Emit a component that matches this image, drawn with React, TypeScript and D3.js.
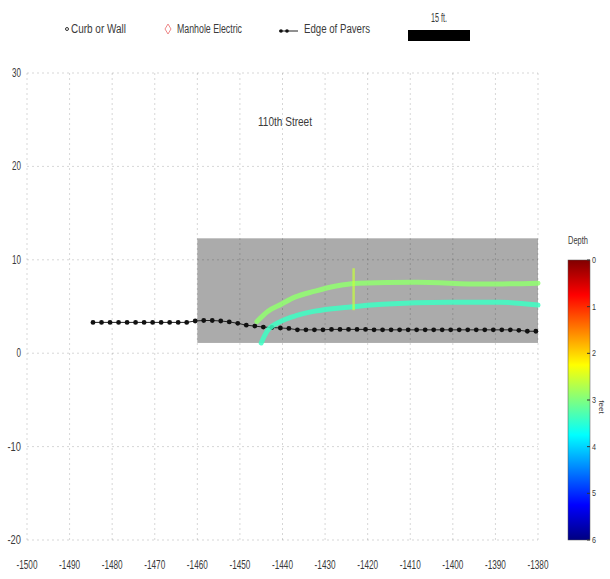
import React, { useRef, useEffect } from 'react';
import * as d3 from 'd3';

const W = 610;
const H = 579;

const xTicks = [-1500, -1490, -1480, -1470, -1460, -1450, -1440, -1430, -1420, -1410, -1400, -1390, -1380];
const yTicks = [30, 20, 10, 0, -10, -20];
const depthTicks = [0, 1, 2, 3, 4, 5, 6];

// surveyed area (grey patch)
const areaX = [-1460, -1380];
const areaY = [1.1, 12.3];

// utility traces, x / y in ft, depth in ft
const upperX = [-1446, -1443.4, -1440.3, -1437.1, -1432.4, -1427.7, -1422.3, -1408.6, -1392.9, -1380];
const upperY = [3.4, 4.5, 5.25, 6.0, 6.64, 7.17, 7.5, 7.6, 7.4, 7.5];
const upperDepth = 2.9;

const lowerX = [-1445, -1443.6, -1440.3, -1436.4, -1432.4, -1424.6, -1416.6, -1400.9, -1389.1, -1380];
const lowerY = [1.1, 2.36, 3.43, 4.07, 4.5, 4.93, 5.25, 5.46, 5.46, 5.15];
const lowerDepth = 3.4;

const markX = [-1423.3, -1423.3];
const markY = [9.1, 4.6];
const markDepth = 2.6;

// edge of pavers
const paverX = [
  -1484.5, -1482.5, -1480.5, -1478.5, -1476.5, -1474.5, -1472.5, -1470.5, -1468.5, -1466.5,
  -1464.5, -1462.5, -1460.5, -1458.5, -1456.5, -1454.5, -1452.5, -1450.5, -1448.5, -1446.5,
  -1444.5, -1442.5, -1440.5, -1438.5, -1436.5, -1434.5, -1432.5, -1430.5, -1428.5, -1426.5,
  -1424.5, -1422.5, -1420.5, -1418.5, -1416.5, -1414.5, -1412.5, -1410.5, -1408.5, -1406.5,
  -1404.5, -1402.5, -1400.5, -1398.5, -1396.5, -1394.5, -1392.5, -1390.5, -1388.5, -1386.5,
  -1384.5, -1382.5, -1380.5
];
const paverY = [
  3.3, 3.3, 3.3, 3.3, 3.3, 3.3, 3.3, 3.3, 3.3, 3.3,
  3.3, 3.3, 3.45, 3.5, 3.5, 3.45, 3.35, 3.2, 3.0, 2.9,
  2.8, 2.75, 2.7, 2.65, 2.5, 2.5, 2.5, 2.5, 2.55, 2.55,
  2.55, 2.55, 2.55, 2.5, 2.5, 2.5, 2.5, 2.5, 2.5, 2.5,
  2.5, 2.5, 2.5, 2.5, 2.5, 2.5, 2.5, 2.5, 2.5, 2.5,
  2.45, 2.35, 2.35
];

const FONT = "'Liberation Sans', Arial, sans-serif";

const App = () => {
  const svgRef = useRef<SVGSVGElement>(null);

  useEffect(() => {
    const svg = d3.select(svgRef.current);
    svg.selectAll('*').remove();

    const x = d3.scaleLinear().domain([-1500, -1380]).range([27, 538]);
    const y = d3.scaleLinear().domain([-20, 30]).range([540, 73]);

    // jet colormap, 0 ft = dark red, 6 ft = dark blue
    const jet = d3.scaleLinear<string>()
      .domain([6, 5.25, 3.75, 2.25, 0.75, 0])
      .range(['#000080', '#0000ff', '#00ffff', '#ffff00', '#ff0000', '#800000']);

    // squeezed text, the original uses a narrow face
    const label = (g, tx, ty, str, size, len, anchor = 'start') =>
      g.append('text')
        .attr('x', tx)
        .attr('y', ty)
        .attr('text-anchor', anchor)
        .attr('font-family', FONT)
        .attr('font-size', size)
        .attr('fill', '#3a3a3a')
        .attr('textLength', len)
        .attr('lengthAdjust', 'spacingAndGlyphs')
        .text(str);

    // grey patch
    svg.append('rect')
      .attr('x', x(areaX[0]))
      .attr('y', y(areaY[1]))
      .attr('width', x(areaX[1]) - x(areaX[0]))
      .attr('height', y(areaY[0]) - y(areaY[1]))
      .attr('fill', '#ababab');

    // grid
    const grid = svg.append('g')
      .attr('stroke', '#000')
      .attr('stroke-opacity', 0.16)
      .attr('stroke-dasharray', '2,3');
    xTicks.forEach(t => {
      grid.append('line').attr('x1', x(t)).attr('x2', x(t)).attr('y1', y(30)).attr('y2', y(-20));
    });
    yTicks.forEach(t => {
      grid.append('line').attr('x1', x(-1500)).attr('x2', x(-1380)).attr('y1', y(t)).attr('y2', y(t));
    });

    // axis labels
    const xa = svg.append('g');
    xTicks.forEach(t => label(xa, x(t), 569, String(t), 12, 21, 'middle'));
    const ya = svg.append('g');
    yTicks.forEach(t => label(ya, 21, y(t) + 4, String(t), 12, String(t).length * 4.5, 'end'));

    const line = d3.line<[number, number]>()
      .x(d => x(d[0]))
      .y(d => y(d[1]))
      .curve(d3.curveMonotoneX);

    // edge of pavers
    const pavers: [number, number][] = paverX.map((v, i) => [v, paverY[i]]);
    svg.append('path')
      .datum(pavers)
      .attr('fill', 'none')
      .attr('stroke', '#222')
      .attr('stroke-width', 1)
      .attr('d', d3.line<[number, number]>().x(d => x(d[0])).y(d => y(d[1])));
    svg.append('g').selectAll('circle')
      .data(pavers)
      .enter().append('circle')
      .attr('cx', d => x(d[0]))
      .attr('cy', d => y(d[1]))
      .attr('r', 2.4)
      .attr('fill', '#111');

    // utility traces
    const upper: [number, number][] = upperX.map((v, i) => [v, upperY[i]]);
    const lower: [number, number][] = lowerX.map((v, i) => [v, lowerY[i]]);
    [[upper, upperDepth], [lower, lowerDepth]].forEach(([pts, dep]) => {
      svg.append('path')
        .datum(pts as [number, number][])
        .attr('fill', 'none')
        .attr('stroke', jet(dep as number))
        .attr('stroke-opacity', 0.85)
        .attr('stroke-width', 5)
        .attr('stroke-linecap', 'round')
        .attr('d', line);
    });

    svg.append('line')
      .attr('x1', x(markX[0])).attr('x2', x(markX[1]))
      .attr('y1', y(markY[0])).attr('y2', y(markY[1]))
      .attr('stroke', jet(markDepth))
      .attr('stroke-opacity', 0.7)
      .attr('stroke-width', 2.5);

    // title
    label(svg, 258, 126, '110th Street', 12, 54);

    // legend
    const leg = svg.append('g');
    leg.append('circle').attr('cx', 67).attr('cy', 29).attr('r', 1.5).attr('fill', 'none').attr('stroke', '#333');
    label(leg, 71, 33, 'Curb or Wall', 12, 55);
    leg.append('path')
      .attr('d', 'M168,24 L171,29 L168,34 L165,29 Z')
      .attr('fill', 'none')
      .attr('stroke', '#e88')
      .attr('stroke-width', 1);
    label(leg, 177, 33, 'Manhole Electric', 12, 65);
    leg.append('line').attr('x1', 279).attr('x2', 298).attr('y1', 31).attr('y2', 31).attr('stroke', '#222');
    [281, 287].forEach(cx => {
      leg.append('circle').attr('cx', cx).attr('cy', 31).attr('r', 1.8).attr('fill', '#111');
    });
    label(leg, 304, 33, 'Edge of Pavers', 12, 66);
    leg.append('rect').attr('x', 408).attr('y', 30).attr('width', 62).attr('height', 11).attr('fill', '#000');
    label(leg, 439, 22, '15 ft.', 12, 16, 'middle');

    // colorbar
    const cb = d3.scaleLinear().domain([0, 6]).range([260, 540]);
    const defs = svg.append('defs');
    const grad = defs.append('linearGradient')
      .attr('id', 'jet')
      .attr('x1', 0).attr('y1', 0).attr('x2', 0).attr('y2', 1);
    [0, 0.75, 2.25, 3.75, 5.25, 6].forEach(d => {
      grad.append('stop').attr('offset', d / 6).attr('stop-color', jet(d));
    });
    svg.append('rect')
      .attr('x', 568).attr('y', cb(0))
      .attr('width', 22).attr('height', cb(6) - cb(0))
      .attr('fill', 'url(#jet)')
      .attr('stroke', '#555')
      .attr('stroke-width', 0.5);
    const cbg = svg.append('g');
    depthTicks.forEach(t => {
      cbg.append('line').attr('x1', 587).attr('x2', 590).attr('y1', cb(t)).attr('y2', cb(t)).attr('stroke', '#333');
      label(cbg, 592, cb(t) + 3, String(t), 9, 4);
    });
    cbg.append('text')
      .attr('transform', `translate(599,${cb(3.15)}) rotate(90)`)
      .attr('text-anchor', 'middle')
      .attr('font-family', FONT)
      .attr('font-size', 8)
      .attr('fill', '#3a3a3a')
      .text('feet');
    label(svg, 578, 244, 'Depth', 11, 20, 'middle');
  }, []);

  return (
    <svg
      ref={svgRef}
      width={W}
      height={H}
      style={{ position: 'absolute', left: 0, top: 0, background: '#fff' }}
    />
  );
};

export default App;
